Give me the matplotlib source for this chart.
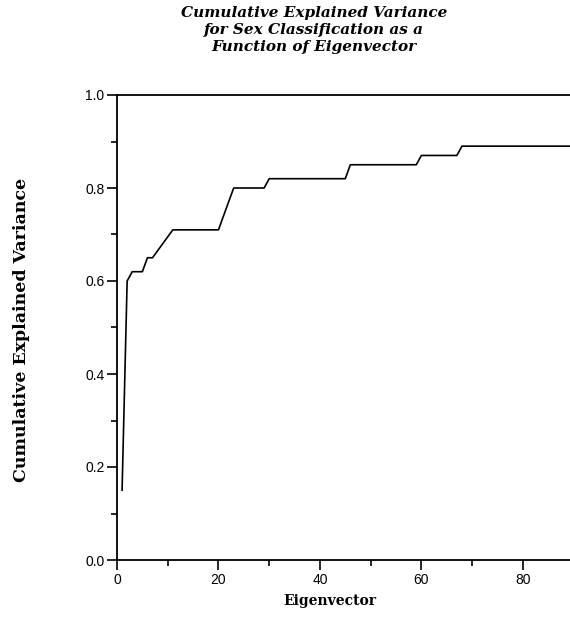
import numpy as np
import matplotlib.pyplot as plt
from matplotlib.ticker import MultipleLocator

# eigenvector index and cumulative explained variance
eigenvector = np.arange(1, 91)
variance = np.array(
    [0.15, 0.60, 0.62, 0.62, 0.62, 0.65, 0.65, 0.665, 0.68, 0.695]
    + [0.71] * 10            # 11-20
    + [0.74, 0.77]           # 21-22
    + [0.80] * 7             # 23-29
    + [0.82] * 16            # 30-45
    + [0.85] * 14            # 46-59
    + [0.87] * 8             # 60-67
    + [0.89] * 23            # 68-90
)

title_lines = ["Cumulative Explained Variance",
               "for Sex Classification as a",
               "Function of Eigenvector"]
x_ticks = [0, 20, 40, 60, 80]
y_ticks = [0.0, 0.2, 0.4, 0.6, 0.8, 1.0]

fig = plt.figure(figsize=(5.7, 6.26), dpi=100)
ax = fig.add_axes([117 / 570, 1 - 560 / 626, 1 - 117 / 570, (560 - 95) / 626])

ax.plot(eigenvector, variance, color="black", lw=1.2)

ax.set_xlim(0, 89.3)
ax.set_ylim(0, 1.0)
ax.set_xticks(x_ticks)
ax.set_yticks(y_ticks)
ax.xaxis.set_minor_locator(MultipleLocator(10))
ax.yaxis.set_minor_locator(MultipleLocator(0.1))
ax.set_yticklabels(["%.1f" % v for v in y_ticks])
ax.tick_params(which="major", direction="out", length=7, width=1.2,
               labelsize=10, pad=2)
ax.tick_params(which="minor", direction="out", length=4, width=1.2)
for lab in ax.get_xticklabels() + ax.get_yticklabels():
    lab.set_family("Liberation Sans")

ax.spines["right"].set_visible(False)
for s in ["left", "bottom", "top"]:
    ax.spines[s].set_linewidth(1.3)

fig.text(22 / 570, 1 - 330 / 626, "Cumulative Explained Variance",
         rotation=90, ha="center", va="center", family="DejaVu Serif",
         fontweight="bold", fontsize=12.5)
fig.text(330 / 570, 1 - 601 / 626, "Eigenvector", ha="center", va="center",
         family="DejaVu Serif", fontweight="bold", fontsize=10)
fig.text(314 / 570, 1 - 30 / 626, "\n".join(title_lines), ha="center",
         va="center", family="DejaVu Serif", fontweight="bold",
         style="italic", fontsize=11, linespacing=1.3)

fig.savefig("out.png", dpi=100)
